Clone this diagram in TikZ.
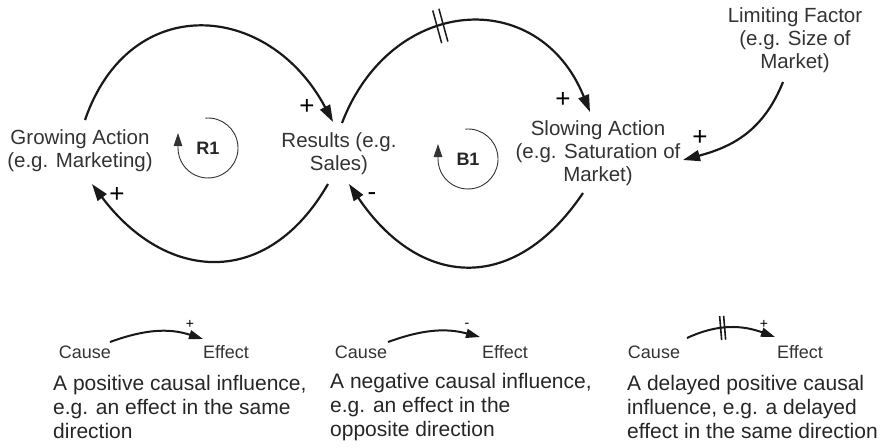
\documentclass[tikz,border=0pt]{standalone}
\usepackage{fontspec}
\setmainfont{Liberation Sans}
\usetikzlibrary{arrows.meta,decorations.markings}

\begin{document}
\begin{tikzpicture}[x=1pt,y=1pt,
  txt/.style={align=center, font=\fontsize{20.5}{23}\selectfont, text=black!80, inner sep=0pt},
  loopname/.style={font=\fontsize{18}{20}\selectfont\bfseries, text=black!85, inner sep=0pt},
  sign/.style={font=\fontsize{26}{28}\selectfont, text=black, inner sep=0pt},
  smallsign/.style={font=\fontsize{14}{15}\selectfont, text=black, inner sep=0pt},
  link/.style={line width=2.2pt, black!90, -{Triangle[length=17pt,width=11pt]}},
  looparrow/.style={line width=0.9pt, black!80, -{Triangle[length=13pt,width=8.5pt]}},
  keylink/.style={line width=2pt, black!90, -{Triangle[length=14pt,width=9pt]}},
  keyword/.style={font=\fontsize{18}{20}\selectfont, text=black!80, inner sep=0pt},
  keytext/.style={align=left, anchor=west, font=\fontsize{21}{24}\selectfont, text=black!85, inner sep=0pt},
  delay/.style={postaction={decorate, decoration={markings,
     mark=at position #1 with {\draw[-, line width=1.5pt, black!90]
        (-3.2pt,-17pt) -- (-3.2pt,17pt) (3.2pt,-17pt) -- (3.2pt,17pt);}}}},
  keydelay/.style={postaction={decorate, decoration={markings,
     mark=at position #1 with {\draw[-, line width=1.6pt, black!90]
        (-2pt,-12pt) -- (-2pt,12pt) (2pt,-12pt) -- (2pt,12pt);}}}}
]
\useasboundingbox (0,0) rectangle (880,-447);

% variables of the causal loop diagram
\node[txt] (ga)  at (80,-151)  {Growing Action\\(e.g. Marketing)};
\node[txt] (res) at (339,-154) {Results (e.g.\\Sales)};
\node[txt] (sa)  at (598,-153) {Slowing Action\\(e.g. Saturation of\\Market)};
\node[txt] (lf)  at (795,-40)  {Limiting Factor\\(e.g. Size of\\Market)};

% loop names
\node[loopname] (r1) at (208,-148) {R1};
\node[loopname] (b1) at (468,-159) {B1};
\draw[looparrow] ([shift={(95:30)}]r1.center) arc[start angle=95, end angle=-180, radius=30] -- ++(0,15);
\draw[looparrow] ([shift={(95:30)}]b1.center) arc[start angle=95, end angle=-180, radius=30] -- ++(0,15);

% reinforcing loop
\draw[link] ([shift={(5,31)}]ga.center) to[out=71, in=118, looseness=1.41] ([shift={(-6,32)}]res.center);
\draw[link] ([shift={(-11,-30)}]res.center) to[out=240, in=-53, looseness=1.33] ([shift={(12,-33)}]ga.center);

% balancing loop (the upper link is delayed)
\draw[link, delay=0.43] ([shift={(3,31)}]res.center) to[out=69, in=112, looseness=1.41] ([shift={(-8,41)}]sa.center);
\draw[link] ([shift={(-15,-40)}]sa.center) to[out=236, in=-56, looseness=1.36] ([shift={(10,-30)}]res.center);

% limiting factor
\draw[link] ([shift={(-12,-42)}]lf.center) to[out=248, in=15, looseness=1.05] ([shift={(85,-7)}]sa.center);

% polarities
\node[sign] (p1) at (307,-107) {+};
\node[sign] (p2) at (117,-195) {+};
\node[sign] (p3) at (563,-100) {+};
\node[sign] (p4) at (700,-138) {+};
\node[sign] (m1) at (372,-197) {-};

% key: positive link
\node[keyword] (c1) at (85,-352)  {Cause};
\node[keyword] (e1) at (226,-352) {Effect};
\draw[keylink] ([shift={(25,10)}]c1.center) to[out=20, in=162, looseness=1] ([shift={(-23,13)}]e1.center);
\node[smallsign] (k1) at (190,-324) {+};
\node[keytext] (t1) at (53,-407) {A positive causal influence,\\e.g. an effect in the same\\direction};

% key: negative link
\node[keyword] (c2) at (361,-352) {Cause};
\node[keyword] (e2) at (505,-352) {Effect};
\draw[keylink] ([shift={(27,10)}]c2.center) to[out=20, in=165, looseness=1] ([shift={(-25,15)}]e2.center);
\node[smallsign] (k2) at (467,-325) {-};
\node[keytext] (t2) at (330,-407) {A negative causal influence,\\e.g. an effect in the\\opposite direction};

% key: delayed positive link
\node[keyword] (c3) at (654,-352) {Cause};
\node[keyword] (e3) at (800,-352) {Effect};
\draw[keylink, keydelay=0.41] ([shift={(33,14)}]c3.center) to[out=25, in=160, looseness=1] ([shift={(-25,15)}]e3.center);
\node[smallsign] (k3) at (764,-324) {+};
\node[keytext] (t3) at (627,-407) {A delayed positive causal\\influence, e.g. a delayed\\effect in the same direction};
\end{tikzpicture}
\end{document}
